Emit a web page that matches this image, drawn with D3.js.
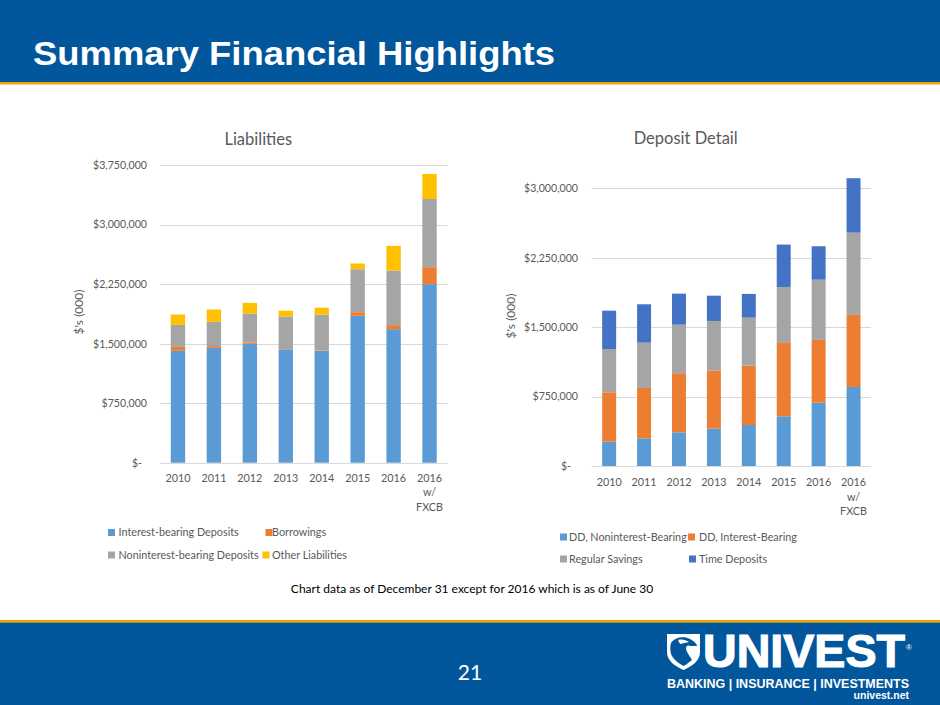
<!DOCTYPE html>
<html>
<head>
<meta charset="utf-8">
<script src="https://cdn.jsdelivr.net/npm/d3@7"></script>
<style>
  html, body { margin: 0; padding: 0; background: #fff; }
  svg { display: block; }
</style>
</head>
<body>
<svg id="slide" width="940" height="705"></svg>
<script>
// ---------- data ----------
const years = ["2010", "2011", "2012", "2013", "2014", "2015", "2016", "2016 w/ FXCB"];
const yearLabelLines = [["2010"], ["2011"], ["2012"], ["2013"], ["2014"], ["2015"], ["2016"], ["2016", "w/", "FXCB"]];

// Liabilities ($000)
const interestBearingDeposits    = [1409000, 1447000, 1497000, 1427000, 1409000, 1850000, 1682000, 2249000];
const borrowings                 = [  50000,   22000,   18000,    5000,    5000,   46000,   51000,  214000];
const noninterestBearingDeposits = [ 277000,  305000,  365000,  410000,  450000,  541000,  688000,  859000];
const otherLiabilities           = [ 131000,  156000,  133000,   72000,   88000,   72000,  310000,  315000];
const liabilitySeries = ["Interest-bearing Deposits", "Borrowings", "Noninterest-bearing Deposits", "Other Liabilities"];
const liabilityTicks = [0, 750000, 1500000, 2250000, 3000000, 3750000];

// Deposit Detail ($000)
const ddNoninterestBearing = [263000, 299000, 364000, 403000, 443000, 537000, 684000, 854000];
const ddInterestBearing    = [533000, 544000, 638000, 627000, 641000, 792000, 678000, 778000];
const regularSavings       = [465000, 490000, 525000, 537000, 519000, 605000, 651000, 889000];
const timeDeposits         = [417000, 414000, 335000, 273000, 256000, 458000, 361000, 588000];
const depositSeries = ["DD, Noninterest-Bearing", "DD, Interest-Bearing", "Regular Savings", "Time Deposits"];
const depositTicks = [0, 750000, 1500000, 2250000, 3000000];

// ---------- styles ----------
const BLUE = "#02569B", GOLD = "#EBA40C";
const TXT = "#595959", GRID = "#D9D9D9";
const FONT = "Lato, 'Open Sans', sans-serif";
const liabColors = ["#5B9BD5", "#ED7D31", "#A5A5A5", "#FFC000"];
const depColors  = ["#5B9BD5", "#ED7D31", "#A5A5A5", "#4472C4"];

const svg = d3.select("#slide");

// ---------- header ----------
svg.append("rect").attr("x", 0).attr("y", 0).attr("width", 940).attr("height", 82).attr("fill", BLUE);
svg.append("rect").attr("x", 0).attr("y", 82).attr("width", 940).attr("height", 2.5).attr("fill", GOLD);
svg.append("text").attr("x", 33).attr("y", 64.5)
  .attr("fill", "#fff").attr("font-family", "'Liberation Sans', Arial, sans-serif")
  .attr("font-weight", "bold").attr("font-size", 34)
  .attr("textLength", 522).attr("lengthAdjust", "spacingAndGlyphs")
  .text("Summary Financial Highlights");

// ---------- footer ----------
svg.append("rect").attr("x", 0).attr("y", 620).attr("width", 940).attr("height", 3).attr("fill", GOLD);
svg.append("rect").attr("x", 0).attr("y", 622.7).attr("width", 940).attr("height", 82.3).attr("fill", BLUE);
svg.append("text").attr("x", 470).attr("y", 680).attr("text-anchor", "middle")
  .attr("fill", "#fff").attr("font-family", FONT).attr("font-size", 21).text("21");
svg.append("text").attr("x", 472).attr("y", 592.7).attr("text-anchor", "middle")
  .attr("fill", "#000").attr("font-family", FONT).attr("font-size", 12)
  .text("Chart data as of December 31 except for 2016 which is as of June 30");

// logo
const logo = svg.append("g");
logo.append("path")
  .attr("d", "M667,634 L700,634 L700,652 C700,661 692,666 683.5,670 C675,666 667,661 667,652 Z")
  .attr("fill", "#fff");
logo.append("path")
  .attr("d", "M671,643 C675,637 684,636 690,639 C694,641 697,644 697,646 L690,646 C688,645 686,646 686,648 C686,652 690,656 692,660 C688,663 686,665 683.5,666 C678,663 673,659 671,654 C670,650 670,646 671,643 Z")
  .attr("fill", BLUE);
logo.append("path")
  .attr("d", "M678,640 C682,639 686,640 689,642 C686,643 683,643 680,644 Z").attr("fill", "#fff");
logo.append("text").attr("x", 703).attr("y", 667).attr("fill", "#fff")
  .attr("font-family", "'Liberation Sans', Arial, sans-serif").attr("font-weight", "bold")
  .attr("font-size", 46).attr("textLength", 202).attr("lengthAdjust", "spacingAndGlyphs")
  .attr("stroke", "#fff").attr("stroke-width", 1.2).text("UNIVEST");
logo.append("text").attr("x", 906).attr("y", 650).attr("fill", "#fff")
  .attr("font-family", "'Liberation Sans', Arial, sans-serif").attr("font-size", 8).text("®");
logo.append("text").attr("x", 667).attr("y", 687.5).attr("fill", "#fff")
  .attr("font-family", "'Liberation Sans', Arial, sans-serif").attr("font-weight", "bold")
  .attr("font-size", 13.5).attr("textLength", 242).attr("lengthAdjust", "spacingAndGlyphs")
  .text("BANKING | INSURANCE | INVESTMENTS");
logo.append("text").attr("x", 909).attr("y", 699).attr("text-anchor", "end").attr("fill", "#fff")
  .attr("font-family", "'Liberation Sans', Arial, sans-serif").attr("font-weight", "bold")
  .attr("font-size", 10.5).text("univest.net");

// ---------- chart builder ----------
function tickFmt(v) { return v === 0 ? "$-" : "$" + d3.format(",")(v); }

function stackedChart(cfg) {
  const g = svg.append("g");
  const x = d3.scaleBand().domain(years).range([cfg.x0, cfg.x1]).paddingInner(0.6).paddingOuter(0.3);
  const y = d3.scaleLinear().domain([0, cfg.max]).range([cfg.yBottom, cfg.yTop]);

  // gridlines
  g.append("g").selectAll("line").data(cfg.ticks).join("line")
    .attr("x1", cfg.x0).attr("x2", cfg.x1)
    .attr("y1", d => Math.round(y(d)) + 0.5).attr("y2", d => Math.round(y(d)) + 0.5)
    .attr("stroke", GRID).attr("stroke-width", 1);

  // y tick labels
  const yAxis = d3.axisLeft(y).tickValues(cfg.ticks).tickFormat(tickFmt).tickSize(0).tickPadding(0);
  const ya = g.append("g").attr("transform", `translate(${cfg.labelRight},0)`).call(yAxis);
  ya.select(".domain").remove();
  ya.selectAll("text").attr("fill", TXT).attr("font-family", FONT).attr("font-size", 10.6)
    .attr("dx", d => d === 0 ? -cfg.zeroShift : 0);

  // stacked bars
  const rows = years.map((yr, i) => {
    const o = { year: yr };
    cfg.series.forEach((s, k) => o[s] = cfg.values[k][i]);
    return o;
  });
  const stack = d3.stack().keys(cfg.series)(rows);
  g.append("g").selectAll("g").data(stack).join("g")
    .attr("fill", (d, k) => cfg.colors[k])
    .selectAll("rect").data(d => d).join("rect")
    .attr("x", d => x(d.data.year))
    .attr("width", x.bandwidth())
    .attr("y", d => y(d[1]))
    .attr("height", d => y(d[0]) - y(d[1]));

  // x labels
  const xl = g.append("g");
  years.forEach((yr, i) => {
    const t = xl.append("text").attr("x", x(yr) + x.bandwidth() / 2).attr("y", cfg.xLabelY)
      .attr("text-anchor", "middle").attr("fill", TXT).attr("font-family", FONT).attr("font-size", 10.8);
    yearLabelLines[i].forEach((ln, j) => {
      t.append("tspan").attr("x", x(yr) + x.bandwidth() / 2).attr("dy", j === 0 ? 0 : cfg.lineGap).text(ln);
    });
  });

  // title
  g.append("text").attr("x", cfg.titleX).attr("y", cfg.titleY).attr("text-anchor", "middle")
    .attr("fill", TXT).attr("font-family", FONT).attr("font-size", 16.5).text(cfg.title);

  // axis title
  g.append("text").attr("transform", `translate(${cfg.axisTitleX},${cfg.axisTitleY}) rotate(-90)`)
    .attr("text-anchor", "middle").attr("fill", TXT).attr("font-family", FONT).attr("font-size", 12)
    .text("$'s (000)");

  // legend
  cfg.legend.forEach((p, k) => {
    g.append("rect").attr("x", p[0]).attr("y", p[1] - 7).attr("width", 7).attr("height", 7).attr("fill", cfg.colors[k]);
    g.append("text").attr("x", p[2]).attr("y", p[1]).attr("fill", TXT).attr("font-family", FONT)
      .attr("font-size", 10.8).text(cfg.series[k]);
  });
}

stackedChart({
  title: "Liabilities", titleX: 258.3, titleY: 145,
  x0: 160, x1: 447.5, yBottom: 462.7, yTop: 165, max: 3750000, ticks: liabilityTicks,
  labelRight: 147, zeroShift: 5, xLabelY: 481.7, lineGap: 14.5,
  axisTitleX: 83, axisTitleY: 312,
  series: liabilitySeries, colors: liabColors,
  values: [interestBearingDeposits, borrowings, noninterestBearingDeposits, otherLiabilities],
  legend: [[108, 536, 118.5], [265.5, 536, 272], [108, 558.5, 118.5], [262.5, 558.5, 272]]
});

stackedChart({
  title: "Deposit Detail", titleX: 685.7, titleY: 144.3,
  x0: 591.7, x1: 871, yBottom: 466, yTop: 188.3, max: 3000000, ticks: depositTicks,
  labelRight: 578, zeroShift: 7, xLabelY: 486, lineGap: 14.5,
  axisTitleX: 515, axisTitleY: 316,
  series: depositSeries, colors: depColors,
  values: [ddNoninterestBearing, ddInterestBearing, regularSavings, timeDeposits],
  legend: [[560, 540.5, 569], [688, 540.5, 699], [560, 562.5, 569], [689, 562.5, 699]]
});
</script>
</body>
</html>
